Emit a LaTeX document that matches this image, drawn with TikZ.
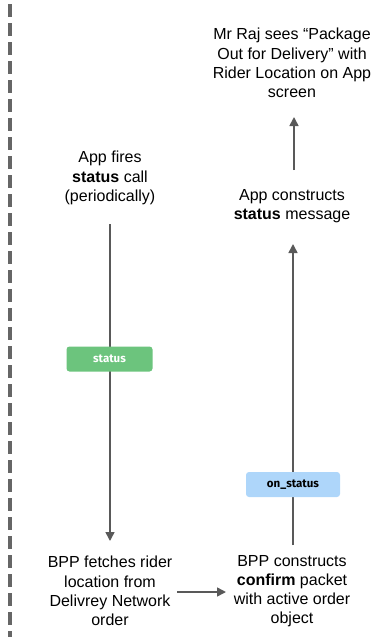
\documentclass[tikz,border=0pt]{standalone}
\usepackage{fontspec}
\setmainfont{Liberation Sans}
\newfontfamily\tagfont{Fira Sans}
\usetikzlibrary{arrows.meta}
\definecolor{linegray}{HTML}{595959}
\definecolor{dashgray}{HTML}{666666}
\definecolor{taggreen}{HTML}{6CC47D}
\definecolor{tagblue}{HTML}{AED6FA}
\tikzset{
  txt/.style={align=center, font=\fontsize{16}{19.2}\selectfont, inner sep=0pt},
  flow/.style={draw=linegray, line width=1.6pt, -{Triangle[length=9pt,width=9pt]}},
  tag/.style={rounded corners=3pt, minimum width=86pt, minimum height=25pt, inner sep=0pt, font=\tagfont\bfseries\fontsize{11.5}{13}\selectfont},
}
\begin{document}
\begin{tikzpicture}[x=1pt,y=-1pt]
\useasboundingbox (0,0) rectangle (376,637);
\draw[dashgray, line width=4pt, dash pattern=on 13pt off 6pt] (10,4) -- (10,637);
\node[txt] (fire) at (110,178) {App fires\\\textbf{status} call\\(periodically)};
\node[txt] (fetch) at (110,591) {BPP fetches rider\\location from\\Delivrey Network\\order};
\node[txt] (conf) at (292,591) {BPP constructs\\\textbf{confirm} packet\\with active order\\object};
\node[txt] (cons) at (292,206) {App constructs\\\textbf{status} message};
\node[txt] (raj) at (292,63) {Mr Raj sees “Package\\Out for Delivery” with\\Rider Location on App\\screen};
\coordinate (a1s) at (110,224);
\coordinate (a1e) at (110,541);
\draw[flow] (a1s) -- (a1e);
\coordinate (a2s) at (293,545);
\coordinate (a2e) at (293,244);
\draw[flow] (a2s) -- (a2e);
\coordinate (a3s) at (294,170);
\coordinate (a3e) at (294,117);
\draw[flow] (a3s) -- (a3e);
\coordinate (a4s) at (177,592);
\coordinate (a4e) at (226,592);
\draw[flow] (a4s) -- (a4e);
\node[tag, fill=taggreen, text=white] (st) at (109.5,359) {status};
\node[tag, fill=tagblue, minimum width=94pt, text=black] (ost) at (293,484.5) {on\_status};
\end{tikzpicture}
\end{document}
